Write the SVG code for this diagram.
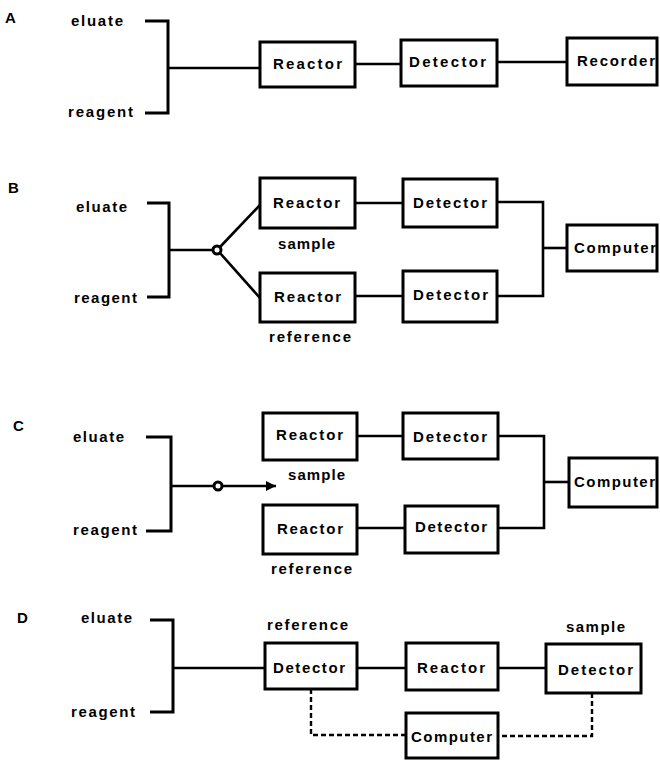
<svg xmlns="http://www.w3.org/2000/svg" width="660" height="761" viewBox="0 0 660 761">
<defs>
<style>
text{font-family:"Liberation Sans",Arial,sans-serif;fill:#000}
.lab{font-size:15px;font-weight:bold}
.pan{font-size:15px;font-weight:bold}
.bx{font-size:15px;font-weight:bold}
.sub{font-size:15px;font-weight:bold}
rect{fill:#fff;stroke:#000;stroke-width:3}
.c{fill:none;stroke:#000;stroke-width:2.6}
.br{fill:none;stroke:#000;stroke-width:3}
.d{fill:none;stroke:#000;stroke-width:2.4;stroke-dasharray:5 3}
.j{fill:#fff;stroke:#000;stroke-width:3}
</style>
<marker id="ah" viewBox="0 0 10 10" refX="10" refY="5" markerWidth="11" markerHeight="10" markerUnits="userSpaceOnUse" orient="auto">
<path d="M0,0 L10,5 L0,10 z" fill="#000"/>
</marker>
</defs>

<!-- Panel labels and inputs -->
<g id="labels">
<text class="pan" x="5" y="23">A</text>
<text class="pan" x="8" y="193">B</text>
<text class="pan" x="13" y="431">C</text>
<text class="pan" x="17" y="623">D</text>
<text class="lab" x="71" y="26" textLength="52" lengthAdjust="spacing">eluate</text>
<text class="lab" x="68" y="117" textLength="65" lengthAdjust="spacing">reagent</text>
<text class="lab" x="76" y="212" textLength="51" lengthAdjust="spacing">eluate</text>
<text class="lab" x="74" y="303" textLength="63" lengthAdjust="spacing">reagent</text>
<text class="lab" x="73" y="442" textLength="51" lengthAdjust="spacing">eluate</text>
<text class="lab" x="73" y="535" textLength="64" lengthAdjust="spacing">reagent</text>
<text class="lab" x="81" y="623" textLength="51" lengthAdjust="spacing">eluate</text>
<text class="lab" x="71" y="717" textLength="64" lengthAdjust="spacing">reagent</text>
<text class="sub" x="278" y="249" textLength="57" lengthAdjust="spacing">sample</text>
<text class="sub" x="269" y="342" textLength="82" lengthAdjust="spacing">reference</text>
<text class="sub" x="288" y="480" textLength="57" lengthAdjust="spacing">sample</text>
<text class="sub" x="271" y="574" textLength="81" lengthAdjust="spacing">reference</text>
<text class="sub" x="267" y="630" textLength="81" lengthAdjust="spacing">reference</text>
<text class="sub" x="566" y="632" textLength="59" lengthAdjust="spacing">sample</text>
</g>

<!-- Connectors -->
<g id="connectors">
<!-- A -->
<path class="br" d="M145,21 H168 V113 H145"/>
<path class="c" d="M168,68 H260"/>
<path class="c" d="M355,64 H401"/>
<path class="c" d="M497,62 H567"/>
<!-- B -->
<path class="br" d="M147,203 H169 V297 H147"/>
<path class="c" d="M169,250 H213"/>
<path class="c" d="M220,247 L260,205"/>
<path class="c" d="M220,253 L260,298"/>
<path class="c" d="M355,203 H403"/>
<path class="c" d="M355,296 H403"/>
<path class="c" d="M497,202 H543 V296 H497"/>
<path class="c" d="M543,248 H567"/>
<circle class="j" cx="217" cy="250" r="4"/>
<!-- C -->
<path class="br" d="M146,437 H171 V531 H146"/>
<path class="c" d="M171,486 H214"/>
<path class="c" d="M222,486 H276" marker-end="url(#ah)"/>
<circle class="j" cx="218" cy="486" r="4"/>
<path class="c" d="M357,436 H403"/>
<path class="c" d="M357,528 H405"/>
<path class="c" d="M498,436 H544 V528 H498"/>
<path class="c" d="M544,482 H569"/>
<!-- D -->
<path class="br" d="M150,620 H173 V712 H150"/>
<path class="c" d="M173,668 H265"/>
<path class="c" d="M357,668 H406"/>
<path class="c" d="M498,668 H546"/>
<path class="d" d="M311,689 V735 H406"/>
<path class="d" d="M592,693 V736 H498"/>
</g>

<!-- Panel A nodes -->
<g id="A-reactor"><rect x="260" y="42" width="95" height="45"/><text class="bx" x="273" y="69" textLength="69" lengthAdjust="spacing">Reactor</text></g>
<g id="A-detector"><rect x="401" y="40" width="96" height="46"/><text class="bx" x="409" y="67" textLength="77" lengthAdjust="spacing">Detector</text></g>
<g id="A-recorder"><rect x="567" y="38" width="90" height="47"/><text class="bx" x="577" y="66" textLength="78" lengthAdjust="spacing">Recorder</text></g>

<!-- Panel B nodes -->
<g id="B-reactor-sample"><rect x="260" y="178" width="95" height="50"/><text class="bx" x="273" y="208" textLength="67" lengthAdjust="spacing">Reactor</text></g>
<g id="B-reactor-reference"><rect x="260" y="273" width="95" height="49"/><text class="bx" x="274" y="302" textLength="67" lengthAdjust="spacing">Reactor</text></g>
<g id="B-detector-sample"><rect x="403" y="179" width="94" height="48"/><text class="bx" x="413" y="208" textLength="74" lengthAdjust="spacing">Detector</text></g>
<g id="B-detector-reference"><rect x="403" y="271" width="94" height="51"/><text class="bx" x="413" y="300" textLength="75" lengthAdjust="spacing">Detector</text></g>
<g id="B-computer"><rect x="567" y="225" width="90" height="46"/><text class="bx" x="574" y="253" textLength="82" lengthAdjust="spacing">Computer</text></g>

<!-- Panel C nodes -->
<g id="C-reactor-sample"><rect x="263" y="413" width="94" height="47"/><text class="bx" x="276" y="440" textLength="67" lengthAdjust="spacing">Reactor</text></g>
<g id="C-reactor-reference"><rect x="263" y="505" width="94" height="49"/><text class="bx" x="277" y="534" textLength="66" lengthAdjust="spacing">Reactor</text></g>
<g id="C-detector-sample"><rect x="403" y="413" width="95" height="46"/><text class="bx" x="413" y="442" textLength="74" lengthAdjust="spacing">Detector</text></g>
<g id="C-detector-reference"><rect x="405" y="506" width="93" height="47"/><text class="bx" x="415" y="532" textLength="72" lengthAdjust="spacing">Detector</text></g>
<g id="C-computer"><rect x="569" y="458" width="88" height="49"/><text class="bx" x="574" y="487" textLength="81" lengthAdjust="spacing">Computer</text></g>

<!-- Panel D nodes -->
<g id="D-detector-reference"><rect x="265" y="643" width="92" height="46"/><text class="bx" x="273" y="673" textLength="72" lengthAdjust="spacing">Detector</text></g>
<g id="D-reactor"><rect x="406" y="643" width="92" height="47"/><text class="bx" x="417" y="673" textLength="68" lengthAdjust="spacing">Reactor</text></g>
<g id="D-detector-sample"><rect x="546" y="644" width="95" height="49"/><text class="bx" x="558" y="675" textLength="75" lengthAdjust="spacing">Detector</text></g>
<g id="D-computer"><rect x="406" y="713" width="92" height="45"/><text class="bx" x="411" y="742" textLength="81" lengthAdjust="spacing">Computer</text></g>
</svg>
